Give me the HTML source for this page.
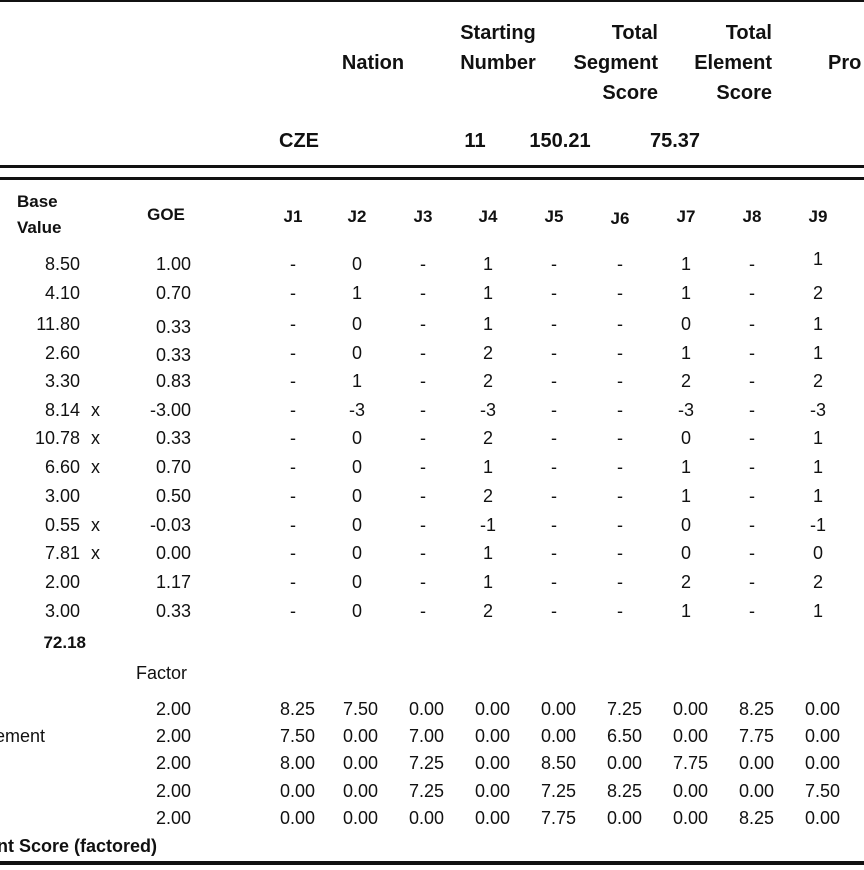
<!DOCTYPE html>
<html><head><meta charset="utf-8"><style>
body{margin:0;width:864px;height:870px;background:#fff;position:relative;overflow:hidden;font-family:"Liberation Sans",Arial,sans-serif;font-size:18px;color:#111}
.l{position:absolute;left:0;width:864px;background:#111}
.t{position:absolute;height:22px;line-height:22px;white-space:nowrap}
.c{width:80px;text-align:center}
.r{width:100px;text-align:right}
.b{font-weight:bold;font-size:19px}
.h{font-size:20px}
</style></head><body>
<div class="l" style="top:0;height:2px"></div>
<div class="l" style="top:165px;height:3px"></div>
<div class="l" style="top:177px;height:3px"></div>
<div class="l" style="top:861px;height:4px"></div>

<div class="t b h c" style="left:333px;top:52px">Nation</div>
<div class="t b h c" style="left:448px;top:22px;width:100px">Starting</div>
<div class="t b h c" style="left:448px;top:52px;width:100px">Number</div>
<div class="t b h r" style="left:558px;top:22px">Total</div>
<div class="t b h r" style="left:538px;top:52px;width:120px">Segment</div>
<div class="t b h r" style="left:558px;top:82px">Score</div>
<div class="t b h r" style="left:672px;top:22px">Total</div>
<div class="t b h r" style="left:672px;top:52px">Element</div>
<div class="t b h r" style="left:672px;top:82px">Score</div>
<div class="t b h" style="left:828px;top:52px">Pro</div>
<div class="t b h" style="left:279px;top:130px">CZE</div>
<div class="t b h c" style="left:435px;top:130px">11</div>
<div class="t b h c" style="left:520px;top:130px">150.21</div>
<div class="t b h c" style="left:635px;top:130px">75.37</div>

<div class="t b" style="left:17px;top:191px;font-size:17px">Base</div>
<div class="t b" style="left:17px;top:217px;font-size:17px">Value</div>
<div class="t b c" style="left:126px;top:204px;font-size:17px">GOE</div>
<div class="t b c" style="left:253px;top:206px;font-size:17px">J1</div>
<div class="t b c" style="left:317px;top:206px;font-size:17px">J2</div>
<div class="t b c" style="left:383px;top:206px;font-size:17px">J3</div>
<div class="t b c" style="left:448px;top:206px;font-size:17px">J4</div>
<div class="t b c" style="left:514px;top:206px;font-size:17px">J5</div>
<div class="t b c" style="left:580px;top:208px;font-size:17px">J6</div>
<div class="t b c" style="left:646px;top:206px;font-size:17px">J7</div>
<div class="t b c" style="left:712px;top:206px;font-size:17px">J8</div>
<div class="t b c" style="left:778px;top:206px;font-size:17px">J9</div>

<div class="t r" style="left:-20px;top:253px">8.50</div><div class="t r" style="left:91px;top:253px">1.00</div>
<div class="t c" style="left:253px;top:253px">-</div><div class="t c" style="left:317px;top:253px">0</div><div class="t c" style="left:383px;top:253px">-</div><div class="t c" style="left:448px;top:253px">1</div><div class="t c" style="left:514px;top:253px">-</div><div class="t c" style="left:580px;top:253px">-</div><div class="t c" style="left:646px;top:253px">1</div><div class="t c" style="left:712px;top:253px">-</div><div class="t c" style="left:778px;top:248px">1</div>

<div class="t r" style="left:-20px;top:282px">4.10</div><div class="t r" style="left:91px;top:282px">0.70</div>
<div class="t c" style="left:253px;top:282px">-</div><div class="t c" style="left:317px;top:282px">1</div><div class="t c" style="left:383px;top:282px">-</div><div class="t c" style="left:448px;top:282px">1</div><div class="t c" style="left:514px;top:282px">-</div><div class="t c" style="left:580px;top:282px">-</div><div class="t c" style="left:646px;top:282px">1</div><div class="t c" style="left:712px;top:282px">-</div><div class="t c" style="left:778px;top:282px">2</div>

<div class="t r" style="left:-20px;top:313px">11.80</div><div class="t r" style="left:91px;top:316px">0.33</div>
<div class="t c" style="left:253px;top:313px">-</div><div class="t c" style="left:317px;top:313px">0</div><div class="t c" style="left:383px;top:313px">-</div><div class="t c" style="left:448px;top:313px">1</div><div class="t c" style="left:514px;top:313px">-</div><div class="t c" style="left:580px;top:313px">-</div><div class="t c" style="left:646px;top:313px">0</div><div class="t c" style="left:712px;top:313px">-</div><div class="t c" style="left:778px;top:313px">1</div>

<div class="t r" style="left:-20px;top:342px">2.60</div><div class="t r" style="left:91px;top:344px">0.33</div>
<div class="t c" style="left:253px;top:342px">-</div><div class="t c" style="left:317px;top:342px">0</div><div class="t c" style="left:383px;top:342px">-</div><div class="t c" style="left:448px;top:342px">2</div><div class="t c" style="left:514px;top:342px">-</div><div class="t c" style="left:580px;top:342px">-</div><div class="t c" style="left:646px;top:342px">1</div><div class="t c" style="left:712px;top:342px">-</div><div class="t c" style="left:778px;top:342px">1</div>

<div class="t r" style="left:-20px;top:370px">3.30</div><div class="t r" style="left:91px;top:370px">0.83</div>
<div class="t c" style="left:253px;top:370px">-</div><div class="t c" style="left:317px;top:370px">1</div><div class="t c" style="left:383px;top:370px">-</div><div class="t c" style="left:448px;top:370px">2</div><div class="t c" style="left:514px;top:370px">-</div><div class="t c" style="left:580px;top:370px">-</div><div class="t c" style="left:646px;top:370px">2</div><div class="t c" style="left:712px;top:370px">-</div><div class="t c" style="left:778px;top:370px">2</div>

<div class="t r" style="left:-20px;top:399px">8.14</div><div class="t" style="left:91px;top:399px">x</div><div class="t r" style="left:91px;top:399px">-3.00</div>
<div class="t c" style="left:253px;top:399px">-</div><div class="t c" style="left:317px;top:399px">-3</div><div class="t c" style="left:383px;top:399px">-</div><div class="t c" style="left:448px;top:399px">-3</div><div class="t c" style="left:514px;top:399px">-</div><div class="t c" style="left:580px;top:399px">-</div><div class="t c" style="left:646px;top:399px">-3</div><div class="t c" style="left:712px;top:399px">-</div><div class="t c" style="left:778px;top:399px">-3</div>

<div class="t r" style="left:-20px;top:427px">10.78</div><div class="t" style="left:91px;top:427px">x</div><div class="t r" style="left:91px;top:427px">0.33</div>
<div class="t c" style="left:253px;top:427px">-</div><div class="t c" style="left:317px;top:427px">0</div><div class="t c" style="left:383px;top:427px">-</div><div class="t c" style="left:448px;top:427px">2</div><div class="t c" style="left:514px;top:427px">-</div><div class="t c" style="left:580px;top:427px">-</div><div class="t c" style="left:646px;top:427px">0</div><div class="t c" style="left:712px;top:427px">-</div><div class="t c" style="left:778px;top:427px">1</div>

<div class="t r" style="left:-20px;top:456px">6.60</div><div class="t" style="left:91px;top:456px">x</div><div class="t r" style="left:91px;top:456px">0.70</div>
<div class="t c" style="left:253px;top:456px">-</div><div class="t c" style="left:317px;top:456px">0</div><div class="t c" style="left:383px;top:456px">-</div><div class="t c" style="left:448px;top:456px">1</div><div class="t c" style="left:514px;top:456px">-</div><div class="t c" style="left:580px;top:456px">-</div><div class="t c" style="left:646px;top:456px">1</div><div class="t c" style="left:712px;top:456px">-</div><div class="t c" style="left:778px;top:456px">1</div>

<div class="t r" style="left:-20px;top:485px">3.00</div><div class="t r" style="left:91px;top:485px">0.50</div>
<div class="t c" style="left:253px;top:485px">-</div><div class="t c" style="left:317px;top:485px">0</div><div class="t c" style="left:383px;top:485px">-</div><div class="t c" style="left:448px;top:485px">2</div><div class="t c" style="left:514px;top:485px">-</div><div class="t c" style="left:580px;top:485px">-</div><div class="t c" style="left:646px;top:485px">1</div><div class="t c" style="left:712px;top:485px">-</div><div class="t c" style="left:778px;top:485px">1</div>

<div class="t r" style="left:-20px;top:514px">0.55</div><div class="t" style="left:91px;top:514px">x</div><div class="t r" style="left:91px;top:514px">-0.03</div>
<div class="t c" style="left:253px;top:514px">-</div><div class="t c" style="left:317px;top:514px">0</div><div class="t c" style="left:383px;top:514px">-</div><div class="t c" style="left:448px;top:514px">-1</div><div class="t c" style="left:514px;top:514px">-</div><div class="t c" style="left:580px;top:514px">-</div><div class="t c" style="left:646px;top:514px">0</div><div class="t c" style="left:712px;top:514px">-</div><div class="t c" style="left:778px;top:514px">-1</div>

<div class="t r" style="left:-20px;top:542px">7.81</div><div class="t" style="left:91px;top:542px">x</div><div class="t r" style="left:91px;top:542px">0.00</div>
<div class="t c" style="left:253px;top:542px">-</div><div class="t c" style="left:317px;top:542px">0</div><div class="t c" style="left:383px;top:542px">-</div><div class="t c" style="left:448px;top:542px">1</div><div class="t c" style="left:514px;top:542px">-</div><div class="t c" style="left:580px;top:542px">-</div><div class="t c" style="left:646px;top:542px">0</div><div class="t c" style="left:712px;top:542px">-</div><div class="t c" style="left:778px;top:542px">0</div>

<div class="t r" style="left:-20px;top:571px">2.00</div><div class="t r" style="left:91px;top:571px">1.17</div>
<div class="t c" style="left:253px;top:571px">-</div><div class="t c" style="left:317px;top:571px">0</div><div class="t c" style="left:383px;top:571px">-</div><div class="t c" style="left:448px;top:571px">1</div><div class="t c" style="left:514px;top:571px">-</div><div class="t c" style="left:580px;top:571px">-</div><div class="t c" style="left:646px;top:571px">2</div><div class="t c" style="left:712px;top:571px">-</div><div class="t c" style="left:778px;top:571px">2</div>

<div class="t r" style="left:-20px;top:600px">3.00</div><div class="t r" style="left:91px;top:600px">0.33</div>
<div class="t c" style="left:253px;top:600px">-</div><div class="t c" style="left:317px;top:600px">0</div><div class="t c" style="left:383px;top:600px">-</div><div class="t c" style="left:448px;top:600px">2</div><div class="t c" style="left:514px;top:600px">-</div><div class="t c" style="left:580px;top:600px">-</div><div class="t c" style="left:646px;top:600px">1</div><div class="t c" style="left:712px;top:600px">-</div><div class="t c" style="left:778px;top:600px">1</div>

<div class="t r" style="left:-14px;top:632px;font-weight:bold;font-size:17px">72.18</div>
<div class="t" style="left:136px;top:662px">Factor</div>

<div class="t r" style="left:91px;top:698px">2.00</div>
<div class="t r" style="left:215px;top:698px">8.25</div><div class="t r" style="left:278px;top:698px">7.50</div><div class="t r" style="left:344px;top:698px">0.00</div><div class="t r" style="left:410px;top:698px">0.00</div><div class="t r" style="left:476px;top:698px">0.00</div><div class="t r" style="left:542px;top:698px">7.25</div><div class="t r" style="left:608px;top:698px">0.00</div><div class="t r" style="left:674px;top:698px">8.25</div><div class="t r" style="left:740px;top:698px">0.00</div>

<div class="t" style="left:-5px;top:725px">ement</div>
<div class="t r" style="left:91px;top:725px">2.00</div>
<div class="t r" style="left:215px;top:725px">7.50</div><div class="t r" style="left:278px;top:725px">0.00</div><div class="t r" style="left:344px;top:725px">7.00</div><div class="t r" style="left:410px;top:725px">0.00</div><div class="t r" style="left:476px;top:725px">0.00</div><div class="t r" style="left:542px;top:725px">6.50</div><div class="t r" style="left:608px;top:725px">0.00</div><div class="t r" style="left:674px;top:725px">7.75</div><div class="t r" style="left:740px;top:725px">0.00</div>

<div class="t r" style="left:91px;top:752px">2.00</div>
<div class="t r" style="left:215px;top:752px">8.00</div><div class="t r" style="left:278px;top:752px">0.00</div><div class="t r" style="left:344px;top:752px">7.25</div><div class="t r" style="left:410px;top:752px">0.00</div><div class="t r" style="left:476px;top:752px">8.50</div><div class="t r" style="left:542px;top:752px">0.00</div><div class="t r" style="left:608px;top:752px">7.75</div><div class="t r" style="left:674px;top:752px">0.00</div><div class="t r" style="left:740px;top:752px">0.00</div>

<div class="t r" style="left:91px;top:780px">2.00</div>
<div class="t r" style="left:215px;top:780px">0.00</div><div class="t r" style="left:278px;top:780px">0.00</div><div class="t r" style="left:344px;top:780px">7.25</div><div class="t r" style="left:410px;top:780px">0.00</div><div class="t r" style="left:476px;top:780px">7.25</div><div class="t r" style="left:542px;top:780px">8.25</div><div class="t r" style="left:608px;top:780px">0.00</div><div class="t r" style="left:674px;top:780px">0.00</div><div class="t r" style="left:740px;top:780px">7.50</div>

<div class="t r" style="left:91px;top:807px">2.00</div>
<div class="t r" style="left:215px;top:807px">0.00</div><div class="t r" style="left:278px;top:807px">0.00</div><div class="t r" style="left:344px;top:807px">0.00</div><div class="t r" style="left:410px;top:807px">0.00</div><div class="t r" style="left:476px;top:807px">7.75</div><div class="t r" style="left:542px;top:807px">0.00</div><div class="t r" style="left:608px;top:807px">0.00</div><div class="t r" style="left:674px;top:807px">8.25</div><div class="t r" style="left:740px;top:807px">0.00</div>

<div class="t" style="left:-3px;top:835px;font-weight:bold;font-size:18px">nt Score (factored)</div>
</body></html>
